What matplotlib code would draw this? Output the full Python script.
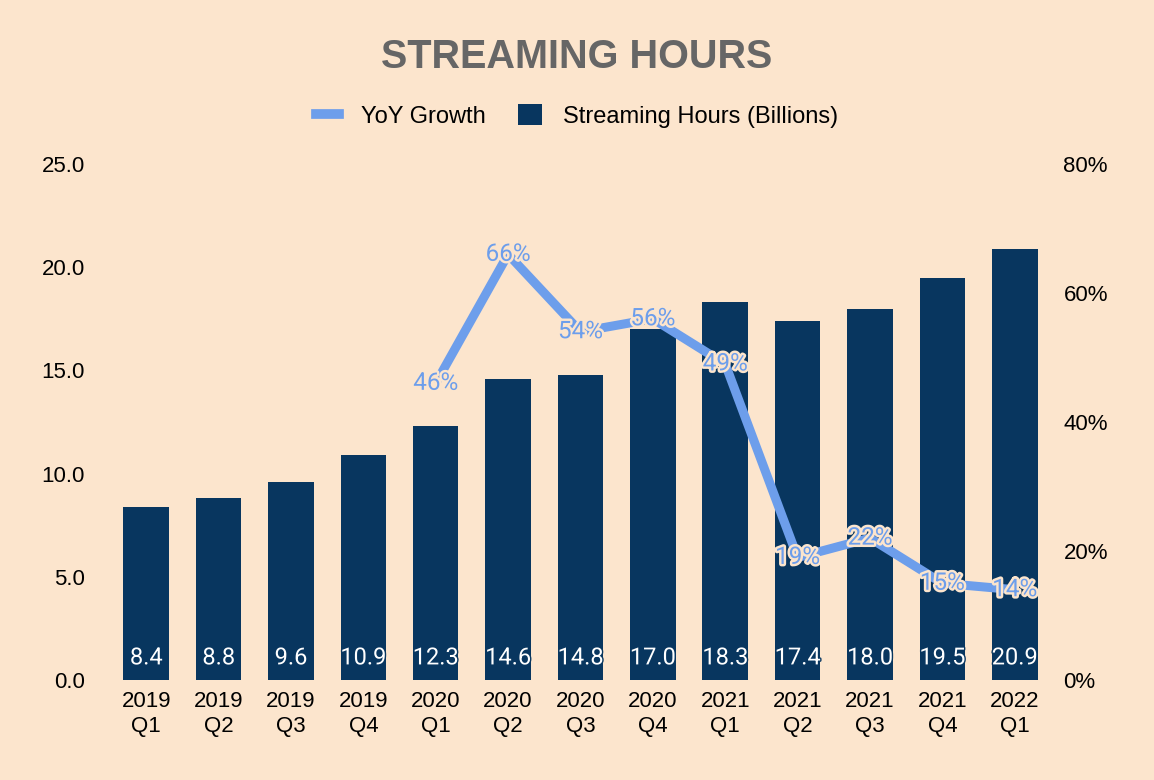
import matplotlib
matplotlib.use("Agg")
import matplotlib.pyplot as plt
import matplotlib.patheffects as pe
from matplotlib.lines import Line2D
from matplotlib.patches import Patch

quarters = ["2019\nQ1", "2019\nQ2", "2019\nQ3", "2019\nQ4",
            "2020\nQ1", "2020\nQ2", "2020\nQ3", "2020\nQ4",
            "2021\nQ1", "2021\nQ2", "2021\nQ3", "2021\nQ4", "2022\nQ1"]
hours = [8.4, 8.8, 9.6, 10.9, 12.3, 14.6, 14.8, 17.0, 18.3, 17.4, 18.0, 19.5, 20.9]
# YoY growth only reported from 2020 Q1
growth_start = 4
growth = [46, 66, 54, 56, 49, 19, 22, 15, 14]

bg = "#fce5cd"
bar_col = "#08365f"
line_col = "#6d9eeb"

plt.rcParams["font.family"] = ["Liberation Sans", "DejaVu Sans"]

fig = plt.figure(figsize=(11.54, 7.8), dpi=100, facecolor=bg)
ax = fig.add_axes([0.0953, 0.1282, 0.8154, 0.6615])
ax.set_facecolor(bg)
ax2 = ax.twinx()

xs = list(range(len(quarters)))
ax.bar(xs, hours, width=0.63, color=bar_col, zorder=2)
for x, v in zip(xs, hours):
    ax.text(x, 1.07, f"{v:.1f}", ha="center", va="center", color="white",
            fontsize=17, family="Roboto", zorder=5,
            path_effects=[pe.withStroke(linewidth=2, foreground=bar_col)])

gx = xs[growth_start:]
ax2.plot(gx, growth, color=line_col, lw=6.5, solid_capstyle="butt", zorder=3)
for x, g in zip(gx, growth):
    ax2.text(x, g, f"{g}%", ha="center", va="center", color=line_col,
             fontsize=17.5, family="Roboto", zorder=6,
             path_effects=[pe.withStroke(linewidth=3.5, foreground=bg)])

ax.set_xlim(-0.5, len(quarters) - 0.5)
ax.set_ylim(0, 25)
ax2.set_ylim(0, 80)
ax.set_yticks([0, 5, 10, 15, 20, 25])
ax.set_yticklabels([f"{t:.1f}" for t in [0, 5, 10, 15, 20, 25]])
ax2.set_yticks([0, 20, 40, 60, 80])
ax2.set_yticklabels([f"{t}%" for t in [0, 20, 40, 60, 80]])
ax.set_xticks(xs)
ax.set_xticklabels(quarters, linespacing=1.25)

for a in (ax, ax2):
    for s in a.spines.values():
        s.set_visible(False)
    a.tick_params(length=0, labelsize=16, colors="black")
ax.tick_params(axis="y", pad=18)
ax2.tick_params(axis="y", pad=9)
ax.tick_params(axis="x", pad=8)

fig.text(0.5, 1 - 57 / 780, "STREAMING HOURS", ha="center", va="center",
         fontsize=28.5, fontweight="bold", color="#666666")

handles = [Line2D([0], [0], color=line_col, lw=7),
           Patch(facecolor=bar_col)]
fig.legend(handles, ["YoY Growth", "Streaming Hours (Billions)"],
           loc="center", bbox_to_anchor=(0.5, 1 - 116 / 780), ncol=2,
           frameon=False, fontsize=17, handlelength=1.0, handleheight=1.0,
           handletextpad=0.9, columnspacing=1.4)

fig.savefig("out.png", dpi=100, facecolor=bg)
